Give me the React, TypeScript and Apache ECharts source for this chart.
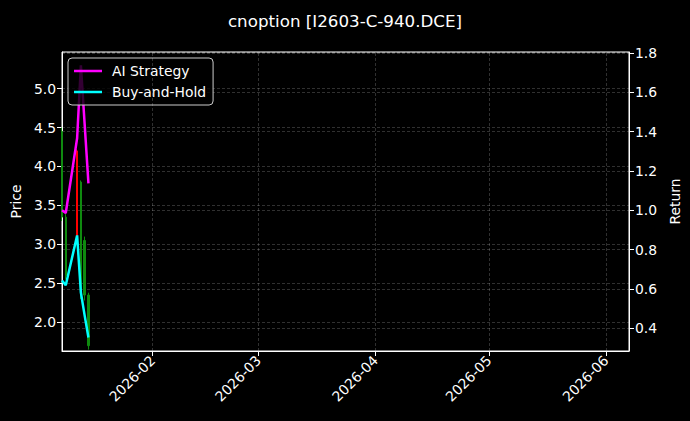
import * as echarts from 'echarts'
import { useEffect, useRef } from 'react'

// trading days shown in the chart
const dates = ['2026-01-08', '2026-01-09', '2026-01-12', '2026-01-13', '2026-01-14', '2026-01-15']

// candles: open, close, low, high
const opens = [3.35, 2.6, 4.2, 2.35, 2.35, 1.7]
const closes = [4.45, 3.35, 3.1, 3.8, 3.05, 2.35]
const lows = [3.3, 2.55, 3.05, 2.3, 2.28, 1.65]
const highs = [4.5, 3.4, 4.22, 3.82, 3.1, 2.38]

// cumulative returns
const aiStrategy = [1.0, 0.986, 1.366, 1.737, 1.437, 1.137]
const buyAndHold = [0.643, 0.618, 0.872, 0.581, 0.464, 0.353]

const monthTicks = ['2026-02', '2026-03', '2026-04', '2026-05', '2026-06']

const FONT = 'DejaVu Sans'

const toTime = (s: string) => {
  const [y, m, d] = s.split('-').map(Number)
  return new Date(y, m - 1, d || 1).getTime()
}

const App = () => {
  const containerRef = useRef<HTMLDivElement>(null)

  useEffect(() => {
    document.body.style.margin = '0'
    document.body.style.background = '#000'
    if (!containerRef.current) return
    const chart = echarts.init(containerRef.current, null, { renderer: 'svg' })

    const candles = dates.map((d, i) => [toTime(d), opens[i], closes[i], lows[i], highs[i]])
    const monthValues = monthTicks.map(toTime)
    const xMin = toTime('2026-01-08')
    const xMax = toTime('2026-06-07') + 2 * 3600 * 1000

    const axisText = { color: '#ffffff', fontFamily: FONT, fontSize: 13.9 }
    const gridStyle = { color: 'rgba(255,255,255,0.24)', width: 0.8, type: [3, 2] as number[] }

    chart.setOption({
      animation: false,
      backgroundColor: '#000000',
      title: {
        text: 'cnoption [I2603-C-940.DCE]',
        left: 'center',
        top: 7,
        textStyle: { color: '#ffffff', fontFamily: FONT, fontSize: 16.7, fontWeight: 'normal' }
      },
      legend: {
        left: 68,
        top: 58,
        orient: 'vertical',
        icon: 'rect',
        itemWidth: 28,
        itemHeight: 2.5,
        itemGap: 7,
        padding: [6, 7, 6, 6],
        backgroundColor: 'rgba(0,0,0,0.8)',
        borderColor: '#cccccc',
        borderWidth: 1,
        borderRadius: 4,
        textStyle: { ...axisText, padding: [0, 0, 0, 5] },
        data: ['AI Strategy', 'Buy-and-Hold']
      },
      grid: {
        left: 62,
        right: 61,
        top: 52,
        bottom: 70,
        show: true,
        borderColor: '#ffffff',
        borderWidth: 1
      },
      xAxis: {
        type: 'value',
        min: xMin,
        max: xMax,
        axisLine: { lineStyle: { color: '#ffffff' } },
        axisTick: { show: true, length: 5, lineStyle: { color: '#ffffff' }, customValues: monthValues },
        axisLabel: {
          ...axisText,
          rotate: 45,
          margin: 7,
          customValues: monthValues,
          formatter: (v: number) => {
            const d = new Date(v)
            return `${d.getFullYear()}-${String(d.getMonth() + 1).padStart(2, '0')}`
          }
        },
        splitLine: { show: false }
      },
      yAxis: [
        {
          type: 'value',
          name: 'Price',
          nameLocation: 'middle',
          nameGap: 38,
          nameRotate: 90,
          nameTextStyle: axisText,
          min: 1.632,
          max: 5.469,
          splitNumber: 7,
          axisLine: { show: true, lineStyle: { color: '#ffffff' } },
          axisTick: { show: true, length: 5, lineStyle: { color: '#ffffff' } },
          axisLabel: { ...axisText, margin: 6, showMinLabel: false, showMaxLabel: false, formatter: (v: number) => v.toFixed(1) },
          splitLine: { show: true, lineStyle: gridStyle }
        },
        {
          type: 'value',
          name: 'Return',
          nameLocation: 'middle',
          nameGap: 38,
          nameRotate: 90,
          nameTextStyle: axisText,
          position: 'right',
          min: 0.284,
          max: 1.805,
          splitNumber: 7,
          axisLine: { show: true, lineStyle: { color: '#ffffff' } },
          axisTick: { show: true, length: 5, lineStyle: { color: '#ffffff' } },
          axisLabel: { ...axisText, margin: 6, showMinLabel: false, formatter: (v: number) => v.toFixed(1) },
          splitLine: { show: true, lineStyle: gridStyle }
        }
      ],
      series: [
        {
          type: 'candlestick',
          yAxisIndex: 0,
          barWidth: 2,
          itemStyle: {
            color: '#0f8a0f',
            color0: '#ff0000',
            borderColor: '#0f8a0f',
            borderColor0: '#ff0000',
            borderWidth: 1
          },
          // vertical grid at month ticks
          markLine: {
            silent: true,
            symbol: 'none',
            label: { show: false },
            lineStyle: gridStyle,
            emphasis: { disabled: true },
            data: monthValues.map((v) => ({ xAxis: v }))
          },
          data: candles
        },
        {
          name: 'AI Strategy',
          type: 'line',
          yAxisIndex: 1,
          symbol: 'none',
          color: '#ff00ff',
          lineStyle: { width: 2.5, color: '#ff00ff' },
          data: dates.map((d, i) => [toTime(d), aiStrategy[i]])
        },
        {
          name: 'Buy-and-Hold',
          type: 'line',
          yAxisIndex: 1,
          symbol: 'none',
          color: '#00ffff',
          lineStyle: { width: 2.5, color: '#00ffff' },
          data: dates.map((d, i) => [toTime(d), buyAndHold[i]])
        }
      ]
    })

    return () => {
      chart.dispose()
    }
  }, [])

  return <div ref={containerRef} style={{ width: 690, height: 421, background: '#000' }} />
}

export default App
